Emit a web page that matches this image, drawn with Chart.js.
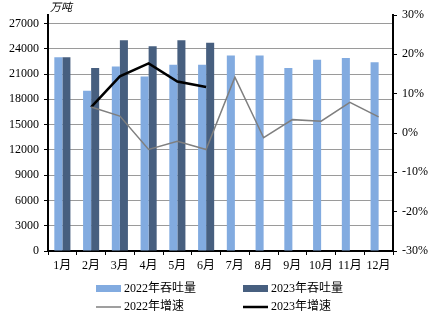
<!DOCTYPE html>
<html>
<head>
<meta charset="utf-8">
<script src="https://cdn.jsdelivr.net/npm/chart.js@4"></script>
<style>
  body { margin: 0; background: #fff; }
  #wrap { width: 438px; height: 317px; }
</style>
</head>
<body>
<div id="wrap"><canvas id="portChart" width="438" height="317"></canvas></div>
<script>
// chart data
const months = ['1月', '2月', '3月', '4月', '5月', '6月', '7月', '8月', '9月', '10月', '11月', '12月'];
const thru2022 = [23000, 19000, 21900, 20700, 22100, 22100, 23200, 23200, 21700, 22700, 22900, 22400];
const thru2023 = [23000, 21700, 25000, 24300, 25000, 24700, null, null, null, null, null, null];
const growth2022 = [null, 6.6, 4.3, -4.2, -2.1, -4.2, 14.2, -1.2, 3.4, 3.0, 7.8, 4.1];
const growth2023 = [null, 6.6, 14.4, 17.7, 13.1, 11.7, null, null, null, null, null, null];
const leftTicks = [0, 3000, 6000, 9000, 12000, 15000, 18000, 21000, 24000, 27000];
const rightTicks = [-30, -20, -10, 0, 10, 20, 30];

const serif = '"Times New Roman", "Liberation Serif", "Noto Sans CJK SC", serif';

// draws unit label and a two-column legend under the axis
const extras = {
  id: 'extras',
  afterDraw(chart) {
    const ctx = chart.ctx;
    ctx.save();
    ctx.fillStyle = '#000';
    ctx.font = 'italic 11px ' + serif;
    ctx.textBaseline = 'middle';
    ctx.textAlign = 'left';
    ctx.fillText('万吨', 50, 8);

    const ds = chart.data.datasets;
    const items = [
      { ds: ds[2], x: 96, y: 289, box: true },
      { ds: ds[3], x: 243, y: 289, box: true },
      { ds: ds[0], x: 96, y: 307, box: false },
      { ds: ds[1], x: 243, y: 307, box: false }
    ];
    ctx.font = '12px ' + serif;
    items.forEach(it => {
      if (it.box) {
        ctx.fillStyle = it.ds.backgroundColor;
        ctx.fillRect(it.x, it.y - 4, 25, 7);
      } else {
        ctx.strokeStyle = it.ds.borderColor;
        ctx.lineWidth = it.ds.borderWidth;
        ctx.beginPath();
        ctx.moveTo(it.x, it.y);
        ctx.lineTo(it.x + 25, it.y);
        ctx.stroke();
      }
      ctx.fillStyle = '#000';
      ctx.fillText(it.ds.label, it.x + 28, it.y);
    });
    ctx.restore();
  }
};

new Chart(document.getElementById('portChart'), {
  type: 'bar',
  data: {
    labels: months,
    datasets: [
      {
        type: 'line',
        label: '2022年增速',
        data: growth2022,
        yAxisID: 'y1',
        borderColor: '#7f7f7f',
        borderWidth: 1.5,
        pointRadius: 0,
        tension: 0,
        order: 0
      },
      {
        type: 'line',
        label: '2023年增速',
        data: growth2023,
        yAxisID: 'y1',
        borderColor: '#000000',
        borderWidth: 2.5,
        pointRadius: 0,
        tension: 0,
        order: 0
      },
      {
        label: '2022年吞吐量',
        data: thru2022,
        yAxisID: 'y',
        backgroundColor: '#82abe0',
        categoryPercentage: 0.56,
        barPercentage: 1,
        order: 1
      },
      {
        label: '2023年吞吐量',
        data: thru2023,
        yAxisID: 'y',
        backgroundColor: '#475f7f',
        categoryPercentage: 0.56,
        barPercentage: 1,
        order: 1
      }
    ]
  },
  options: {
    responsive: false,
    animation: false,
    layout: { padding: { top: 15, left: 0, right: 0, bottom: 0 } },
    plugins: {
      legend: { display: false },
      tooltip: { enabled: false }
    },
    scales: {
      x: {
        grid: { drawOnChartArea: false, tickLength: 4, tickColor: '#000' },
        border: { color: '#000', width: 2 },
        ticks: { color: '#000', font: { family: serif, size: 12 }, padding: 4, maxRotation: 0 },
        afterFit(s) { s.height = 66; }
      },
      y: {
        position: 'left',
        min: 0,
        max: 28000,
        ticks: { color: '#000', font: { family: serif, size: 12 }, padding: 5, callback: v => String(v) },
        afterBuildTicks(s) { s.ticks = leftTicks.map(v => ({ value: v })); },
        grid: { color: '#9a9a9a', tickColor: '#000', tickLength: 4 },
        border: { color: '#000', width: 2 },
        afterFit(s) { s.width = 48; }
      },
      y1: {
        position: 'right',
        min: -30,
        max: 30,
        ticks: { color: '#000', font: { family: serif, size: 12 }, padding: 5, callback: v => v + '%' },
        afterBuildTicks(s) { s.ticks = rightTicks.map(v => ({ value: v })); },
        grid: { drawOnChartArea: false, tickColor: '#000', tickLength: 4 },
        border: { color: '#000', width: 2 },
        afterFit(s) { s.width = 45; }
      }
    }
  },
  plugins: [extras]
});
</script>
</body>
</html>
